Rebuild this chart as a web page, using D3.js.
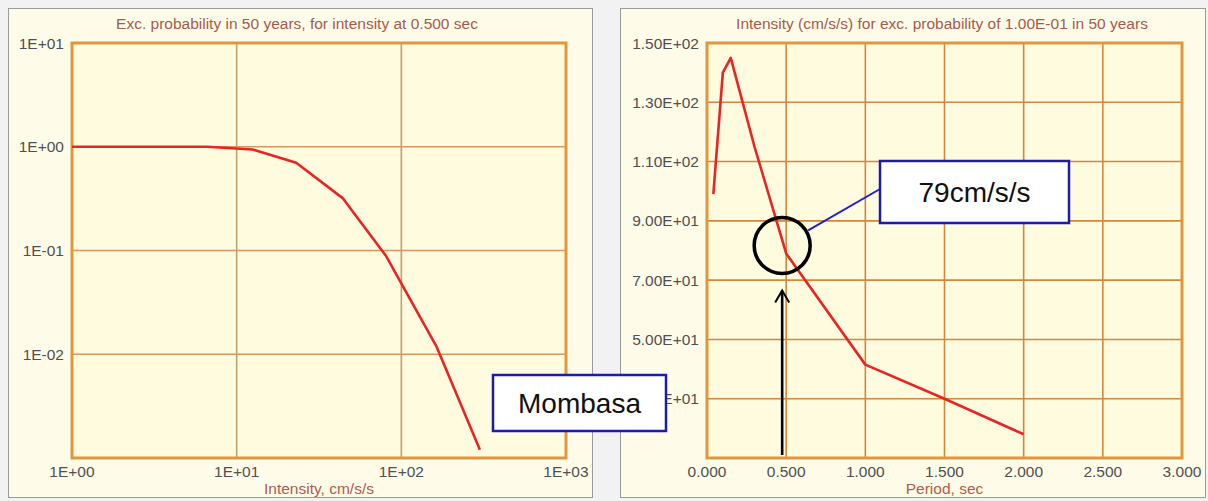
<!DOCTYPE html>
<html>
<head>
<meta charset="utf-8">
<script src="https://cdn.jsdelivr.net/npm/d3@7"></script>
<style>
  body { margin: 0; background: #f2f2f2; }
  svg { display: block; font-family: "Liberation Sans", Arial, sans-serif; }
</style>
</head>
<body>
<svg id="chart" width="1208" height="501"></svg>
<script>
// left chart: exceedance probability vs intensity (log/log)
const hazIntensity = [1, 6.6, 12.5, 23, 44, 81, 163, 300];
const hazProb = [1, 1, 0.94, 0.70, 0.32, 0.088, 0.012, 0.0012];
const hazXTicks = [1, 10, 100, 1000];
const hazYTicks = [10, 1, 0.1, 0.01, 0.001];

// right chart: uniform hazard spectrum
const uhsPeriod = [0.04, 0.1, 0.15, 0.3, 0.5, 1.0, 1.5, 2.0];
const uhsIntensity = [99, 140, 145, 115, 79, 41.5, 30, 18];
const uhsXTicks = [0, 0.5, 1, 1.5, 2, 2.5, 3];
const uhsYTicks = [150, 130, 110, 90, 70, 50, 30, 10];

const titles = [
  "Exc. probability in 50 years, for intensity at 0.500 sec",
  "Intensity (cm/s/s) for exc. probability of 1.00E-01 in 50 years"
];
const xTitles = ["Intensity, cm/s/s", "Period, sec"];

let svg = d3.select("#chart");

// pad exponent like 1E+01
function expLabel(d) {
  let e = Math.round(Math.log10(d));
  return "1E" + (e < 0 ? "-" : "+") + String(Math.abs(e)).padStart(2, "0");
}
function sciLabel(d) {
  let s = d.toExponential(2).split("e");
  let e = +s[1];
  return s[0] + "E" + (e < 0 ? "-" : "+") + String(Math.abs(e)).padStart(2, "0");
}

// panel frames
[[8, 584], [620, 585]].forEach(function (p) {
  svg.append("rect")
    .attr("x", p[0] + 0.5).attr("y", 8.5)
    .attr("width", p[1]).attr("height", 489)
    .attr("fill", "#fefce8")
    .attr("stroke", "#9a9a9a");
});

function drawPanel(opt) {
  let g = svg.append("g");
  let x = opt.x, y = opt.y;
  let [x0, x1] = x.range(), [y1, y0] = y.range();

  g.append("rect")
    .attr("x", x0).attr("y", y0)
    .attr("width", x1 - x0).attr("height", y1 - y0)
    .attr("fill", "#fffbdf");

  // grid lines
  g.selectAll(".gx").data(opt.xTicks.slice(1, -1)).enter()
    .append("line")
    .attr("x1", d => x(d)).attr("x2", d => x(d))
    .attr("y1", y0).attr("y2", y1)
    .attr("stroke", opt.gridX).attr("stroke-width", 1.6);
  g.selectAll(".gy").data(opt.yTicks.slice(1, -1)).enter()
    .append("line")
    .attr("y1", d => y(d)).attr("y2", d => y(d))
    .attr("x1", x0).attr("x2", x1)
    .attr("stroke", opt.gridY).attr("stroke-width", 1.6);

  g.append("rect")
    .attr("x", x0).attr("y", y0)
    .attr("width", x1 - x0).attr("height", y1 - y0)
    .attr("fill", "none")
    .attr("stroke", "#e0963e")
    .attr("stroke-width", 3);

  // curve
  g.append("path")
    .datum(opt.xs.map((v, i) => [v, opt.ys[i]]))
    .attr("fill", "none")
    .attr("stroke", "#e82424")
    .attr("stroke-width", 2.6)
    .attr("stroke-linejoin", "round")
    .attr("d", d3.line().x(d => x(d[0])).y(d => y(d[1])));

  // tick labels
  g.selectAll(".lx").data(opt.xTicks).enter()
    .append("text")
    .attr("x", d => x(d)).attr("y", 477)
    .attr("text-anchor", "middle")
    .attr("font-size", 15.5)
    .attr("fill", "#505050")
    .text(opt.xFmt);
  g.selectAll(".ly").data(opt.yTicks.slice(0, -1)).enter()
    .append("text")
    .attr("x", x0 - 8).attr("y", d => y(d) + 5.5)
    .attr("text-anchor", "end")
    .attr("font-size", 15.5)
    .attr("fill", "#505050")
    .text(opt.yFmt);

  g.append("text")
    .attr("x", opt.titleX).attr("y", 29)
    .attr("text-anchor", "middle")
    .attr("font-size", 15.5)
    .attr("fill", "#a65a4e")
    .text(opt.title);
  g.append("text")
    .attr("x", (x0 + x1) / 2).attr("y", 494)
    .attr("text-anchor", "middle")
    .attr("font-size", 15.5)
    .attr("fill", "#b05a50")
    .text(opt.xTitle);
}

let hx = d3.scaleLog().domain([1, 1000]).range([72, 566]);
let hy = d3.scaleLog().domain([0.001, 10]).range([458, 43]);
drawPanel({
  x: hx, y: hy, xs: hazIntensity, ys: hazProb,
  xTicks: hazXTicks, yTicks: hazYTicks,
  xFmt: expLabel, yFmt: expLabel,
  gridX: "#c4a06a", gridY: "#d8975c",
  title: titles[0], titleX: 297, xTitle: xTitles[0]
});

let ux = d3.scaleLinear().domain([0, 3]).range([707, 1182]);
let uy = d3.scaleLinear().domain([10, 150]).range([458, 43]);
drawPanel({
  x: ux, y: uy, xs: uhsPeriod, ys: uhsIntensity,
  xTicks: uhsXTicks, yTicks: uhsYTicks,
  xFmt: d3.format(".3f"), yFmt: sciLabel,
  gridX: "#d0883e", gridY: "#d0883e",
  title: titles[1], titleX: 942, xTitle: xTitles[1]
});

// annotations
let markX = ux(0.5) - 4, markY = uy(79) - 8;
let tipY = markY + 45;
let ann = svg.append("g");

// arrow pointing up at the 0.5 sec period
ann.append("line")
  .attr("x1", markX).attr("x2", markX)
  .attr("y1", 455).attr("y2", tipY + 1)
  .attr("stroke", "#000")
  .attr("stroke-width", 2.6);
ann.append("path")
  .attr("d", `M${markX - 7},${tipY + 12} L${markX},${tipY} L${markX + 7},${tipY + 12}`)
  .attr("fill", "none")
  .attr("stroke", "#000")
  .attr("stroke-width", 2);

ann.append("circle")
  .attr("cx", markX).attr("cy", markY)
  .attr("r", 28)
  .attr("fill", "none")
  .attr("stroke", "#000")
  .attr("stroke-width", 3.5);

ann.append("line")
  .attr("x1", markX + 26).attr("y1", markY - 15)
  .attr("x2", 880).attr("y2", 189)
  .attr("stroke", "#2020d0")
  .attr("stroke-width", 2);

let boxes = [
  { x: 880, y: 161, w: 189, h: 62, label: "79cm/s/s" },
  { x: 493, y: 375, w: 173, h: 56, label: "Mombasa" }
];
boxes.forEach(function (b) {
  ann.append("rect")
    .attr("x", b.x).attr("y", b.y)
    .attr("width", b.w).attr("height", b.h)
    .attr("fill", "#ffffff")
    .attr("stroke", "#1c1ca8")
    .attr("stroke-width", 2.5);
  ann.append("text")
    .attr("x", b.x + b.w / 2).attr("y", b.y + b.h / 2 + 10)
    .attr("text-anchor", "middle")
    .attr("font-size", 28)
    .attr("fill", "#111")
    .text(b.label);
});
</script>
</body>
</html>
